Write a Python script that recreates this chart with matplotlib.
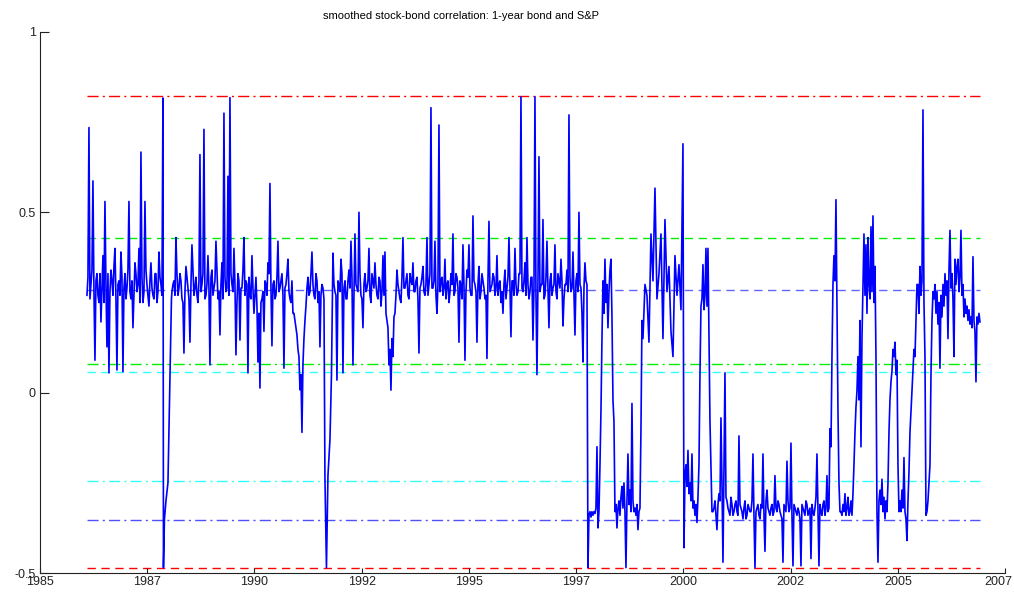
import numpy as np
import matplotlib
matplotlib.use("Agg")
import matplotlib.pyplot as plt
from matplotlib.transforms import ScaledTranslation

plt.rcParams["font.family"] = ["Liberation Sans", "DejaVu Sans"]
plt.rcParams["axes.unicode_minus"] = False

TITLE = "smoothed stock-bond correlation: 1-year bond and S&P"

# smoothed correlation.
# "_mid" lists hold the in-between readings of the dense noisy band.
corr_1986_1987 = [0.27, 0.735, 0.30, 0.587, 0.09, 0.33, 0.25, 0.196, 0.38, 0.53,
                  0.127, 0.055, 0.34, 0.27, 0.40, 0.063, 0.31, 0.39, 0.058, 0.33,
                  0.29, 0.53, 0.26, 0.18, 0.36, 0.28, 0.40, 0.667, 0.25, 0.53,
                  0.30, 0.24, 0.36, 0.27, 0.33, 0.25, 0.39, 0.30, 0.817]
corr_1986_1987_mid = [0.32, 0.26, 0.34, 0.28, 0.31, 0.27, 0.33, 0.29, 0.25, 0.30,
                      0.33, 0.28, 0.31, 0.35, 0.26, 0.30, 0.27, 0.32, 0.29, 0.26,
                      0.34, 0.28, 0.31, 0.27, 0.33, 0.30, 0.25, 0.32, 0.28, 0.34,
                      0.27, 0.31, 0.29, 0.26, 0.33, 0.28, 0.32, 0.27]

crash_1987_dates = [1987.8155, 1987.8383, 1987.8725, 1987.9181, 1987.9637, 1987.9979]
crash_1987_vals = [-0.485, -0.35, -0.30, -0.25, 0.05, 0.26]

corr_1988_1991 = [0.28, 0.31, 0.43, 0.27, 0.33, 0.26, 0.11, 0.35, 0.29, 0.14,
                  0.41, 0.27, 0.32, 0.25, 0.66, 0.30, 0.73, 0.27, 0.38, 0.077,
                  0.34, 0.29, 0.42, 0.26, 0.16, 0.36, 0.775, 0.28, 0.60, 0.818,
                  0.30, 0.40, 0.105, 0.33, 0.146, 0.29, 0.43, 0.31, 0.055, 0.27,
                  0.38, 0.22, 0.32, 0.085, 0.013, 0.26, 0.17, 0.30, 0.36, 0.58,
                  0.13, 0.31, 0.27, 0.42, 0.29, 0.33, 0.068, 0.30, 0.37, 0.26,
                  0.31, 0.22, 0.18, 0.12, 0.008, -0.11, 0.15, 0.24, 0.32, 0.28,
                  0.39, 0.27, 0.33, 0.25, 0.127, 0.30, 0.26]
corr_1988_1991_mid = [0.30, 0.27, 0.33, 0.29, 0.31, 0.25, 0.28, 0.32, 0.26, 0.30,
                      0.34, 0.29, 0.27, 0.31, 0.28, 0.33, 0.26, 0.30, 0.29, 0.32,
                      0.27, 0.31, 0.34, 0.28, 0.30, 0.26, 0.32, 0.29, 0.27, 0.33,
                      0.28, 0.30, 0.25, 0.31, 0.29, 0.34, 0.27, 0.30, 0.32, 0.26,
                      0.29, 0.27, 0.24, 0.22, 0.25, 0.28, 0.31, 0.27, 0.33, 0.29,
                      0.30, 0.26, 0.32, 0.28, 0.31, 0.27, 0.29, 0.33, 0.28, 0.25,
                      0.22, 0.20, 0.16, 0.10, 0.05, 0.08, 0.20, 0.29, 0.27, 0.33,
                      0.30, 0.26, 0.31, 0.28, 0.27, 0.29]

drop_1991_dates = [1991.4974, 1991.5316, 1991.5658, 1991.6114, 1991.6456]
drop_1991_vals = [-0.24, -0.485, -0.23, -0.13, 0.05]

corr_1991_1997 = [0.387, 0.28, 0.035, 0.30, 0.37, 0.055, 0.31, 0.26, 0.34, 0.42,
                  0.077, 0.44, 0.29, 0.50, 0.27, 0.18, 0.33, 0.29, 0.40, 0.25,
                  0.31, 0.36, 0.27, 0.32, 0.24, 0.38, 0.39, 0.20, 0.077, 0.007,
                  0.10, 0.22, 0.34, 0.28, 0.25, 0.43, 0.29, 0.33, 0.26, 0.31,
                  0.36, 0.28, 0.32, 0.11, 0.30, 0.35, 0.27, 0.43, 0.30, 0.79,
                  0.29, 0.42, 0.22, 0.742, 0.31, 0.27, 0.37, 0.30, 0.25, 0.33,
                  0.44, 0.28, 0.32, 0.14, 0.30, 0.41, 0.09, 0.34, 0.41, 0.27,
                  0.49, 0.30, 0.14, 0.35, 0.28, 0.31, 0.26, 0.095, 0.475, 0.29,
                  0.33, 0.27, 0.38, 0.30, 0.25, 0.22, 0.34, 0.29, 0.43, 0.155,
                  0.31, 0.40, 0.27, 0.33, 0.82, 0.28, 0.36, 0.43, 0.26, 0.32,
                  0.146, 0.82, 0.05, 0.654, 0.30, 0.48, 0.27, 0.42, 0.18, 0.33,
                  0.29, 0.41, 0.26, 0.31, 0.37, 0.185, 0.30, 0.34, 0.77, 0.28,
                  0.39, 0.16, 0.33, 0.50, 0.29, 0.085, 0.36, 0.30]
corr_1991_1997_mid = [0.30, 0.27, 0.31, 0.28, 0.33, 0.29, 0.26, 0.31, 0.29, 0.32,
                      0.27, 0.30, 0.28, 0.33, 0.26, 0.30, 0.28, 0.31, 0.27, 0.33,
                      0.29, 0.30, 0.26, 0.31, 0.28, 0.27, 0.22, 0.18, 0.12, 0.15,
                      0.21, 0.27, 0.30, 0.26, 0.32, 0.29, 0.31, 0.27, 0.33, 0.30,
                      0.28, 0.31, 0.26, 0.29, 0.32, 0.28, 0.30, 0.27, 0.33, 0.29,
                      0.31, 0.27, 0.30, 0.28, 0.32, 0.29, 0.26, 0.31, 0.28, 0.30,
                      0.27, 0.33, 0.29, 0.31, 0.26, 0.30, 0.28, 0.32, 0.29, 0.27,
                      0.31, 0.28, 0.30, 0.26, 0.33, 0.29, 0.27, 0.31, 0.28, 0.30,
                      0.32, 0.29, 0.27, 0.31, 0.28, 0.30, 0.26, 0.32, 0.29, 0.31,
                      0.27, 0.30, 0.28, 0.33, 0.29, 0.31, 0.27, 0.30, 0.28, 0.32,
                      0.29, 0.27, 0.31, 0.28, 0.30, 0.26, 0.32, 0.29, 0.31, 0.27,
                      0.30, 0.28, 0.33, 0.29, 0.31, 0.26, 0.30, 0.28, 0.32, 0.29,
                      0.27, 0.31, 0.28, 0.30, 0.22, 0.29, 0.31]

corr_1997_1998 = [-0.485, -0.34, -0.33, -0.345, -0.33, -0.34, -0.33, -0.335, -0.32, -0.15,
                  -0.375, -0.33, -0.20, -0.05, 0.15, 0.31, 0.22, 0.37, 0.25, 0.30,
                  0.18, 0.28, 0.34, 0.37, 0.21]

corr_1998 = [-0.02, -0.08, -0.33, -0.31, -0.375, -0.32, -0.30, -0.34, -0.29, -0.26,
             -0.32, -0.25, -0.33, -0.485, -0.30, -0.17, -0.31, -0.27, -0.33, -0.03,
             -0.30, -0.33, -0.32, -0.34, -0.31, -0.38, -0.33, -0.32, -0.10, 0.20]

corr_1998_1999 = [0.15, 0.30, 0.27, 0.14, 0.44, 0.31, 0.567, 0.26, 0.33, 0.44,
                  0.15, 0.48, 0.28, 0.35, 0.17, 0.10, 0.38, 0.27, 0.355, 0.23, 0.69]

corr_1999_2000 = [-0.43, -0.23, -0.20, -0.26, -0.16, -0.28, -0.25, -0.30, -0.17, -0.32,
                  -0.30, -0.34, -0.31, -0.36, -0.29, -0.20, 0.05]

corr_2000 = [0.24, 0.26, 0.355, 0.23, 0.27, 0.40, 0.24, 0.40, 0.17, -0.08, -0.20, -0.33]

corr_2000_2002 = [-0.33, -0.30, -0.38, -0.28, -0.07, -0.47, 0.055, -0.30, -0.33, -0.29,
                  -0.34, -0.31, -0.33, -0.12, -0.32, -0.35, -0.30, -0.34, -0.32, -0.33,
                  -0.17, -0.485, -0.32, -0.34, -0.31, -0.17, -0.44, -0.27, -0.33, -0.32,
                  -0.34, -0.23, -0.33, -0.31, -0.34, -0.47, -0.32, -0.19, -0.33, -0.14,
                  -0.48, -0.32, -0.34, -0.33, -0.48, -0.32, -0.34, -0.31, -0.33, -0.46,
                  -0.33, -0.32, -0.17, -0.48, -0.33, -0.31, -0.34, -0.23, -0.32]
corr_2000_2002_mid = [-0.32, -0.34, -0.31, -0.30, -0.25, -0.20, -0.29, -0.32, -0.34, -0.31,
                      -0.33, -0.30, -0.34, -0.31, -0.33, -0.32, -0.35, -0.31, -0.33, -0.30,
                      -0.34, -0.33, -0.31, -0.35, -0.32, -0.34, -0.30, -0.32, -0.34, -0.31,
                      -0.33, -0.32, -0.30, -0.33, -0.35, -0.31, -0.33, -0.30, -0.32, -0.34,
                      -0.31, -0.33, -0.32, -0.35, -0.31, -0.33, -0.30, -0.34, -0.32, -0.31,
                      -0.34, -0.29, -0.33, -0.31, -0.34, -0.30, -0.32, -0.33]

corr_2003a = [-0.10, -0.15, 0.10, 0.30, 0.38, 0.31, 0.535, 0.25, -0.05, -0.25, -0.33]

corr_2003b = [-0.33, -0.34, -0.31, -0.33, -0.28, -0.34, -0.32, -0.29, -0.34, -0.33,
              -0.30, -0.34, -0.28, -0.20, -0.11, -0.04, 0.005, 0.10, -0.02, 0.20,
              -0.15, 0.15]

corr_2003_2004 = [0.30, 0.44, 0.27, 0.41, 0.22, 0.43, 0.30, 0.26, 0.46, 0.28,
                  0.49, 0.25, 0.35, 0.10, -0.33, -0.47, -0.30]

corr_2004a = [-0.27, -0.31, -0.24, -0.33, -0.29, -0.35, -0.30, -0.33, -0.25, -0.11,
              -0.02, 0.03, 0.06, 0.12, 0.10, 0.14, 0.05, 0.09, -0.20, -0.33]

corr_2004b = [-0.30, -0.33, -0.27, -0.32, -0.18, -0.33, -0.35, -0.41, -0.30, -0.22,
              -0.11, -0.05, 0.005, 0.06, 0.12, 0.10, 0.20, 0.30]

corr_2005a = [0.30, 0.22, 0.35, 0.27, 0.31, 0.784, 0.25, 0.10, -0.34, -0.33,
              -0.30, -0.25, -0.20, 0.05, 0.20, 0.28]

corr_2005_2006 = [0.26, 0.30, 0.22, 0.28, 0.19, 0.25, 0.068, 0.27, 0.21, 0.30,
                  0.24, 0.33, 0.27, 0.31, 0.15, 0.34, 0.45, 0.29, 0.33, 0.26,
                  0.10, 0.37, 0.30, 0.35, 0.37, 0.28, 0.32, 0.45, 0.27, 0.30,
                  0.21, 0.26, 0.22, 0.24, 0.20, 0.23, 0.19, 0.21, 0.18, 0.377,
                  0.20, 0.17, 0.03, 0.21, 0.19, 0.22, 0.196]

# (start year, end year, readings, in-between readings or None)
segments = [
    (1986.0715, 1987.8041, corr_1986_1987, corr_1986_1987_mid),
    (None, crash_1987_dates, crash_1987_vals, None),
    (1988.0093, 1991.4746, corr_1988_1991, corr_1988_1991_mid),
    (None, drop_1991_dates, drop_1991_vals, None),
    (1991.6798, 1997.4705, corr_1991_1997, corr_1991_1997_mid),
    (1997.4933, 1998.0404, corr_1997_1998, None),
    (1998.0632, 1998.7243, corr_1998, None),
    (1998.7471, 1999.6591, corr_1998_1999, None),
    (1999.6819, 2000.0466, corr_1999_2000, None),
    (2000.0694, 2000.3202, corr_2000, None),
    (2000.3430, 2002.9875, corr_2000_2002, corr_2000_2002_mid),
    (2003.0103, 2003.2383, corr_2003a, None),
    (2003.2611, 2003.7399, corr_2003b, None),
    (2003.7627, 2004.1274, corr_2003_2004, None),
    (2004.1504, 2004.5834, corr_2004a, None),
    (2004.6062, 2004.9938, corr_2004b, None),
    (2005.0166, 2005.3585, corr_2005a, None),
    (2005.3813, 2006.4300, corr_2005_2006, None),
]

# reference levels: max, upper bands, mean, lower bands, min
ref_levels = [0.823, 0.43, 0.285, 0.08, 0.057, -0.245, -0.353, -0.485]
ref_colors = ["#ff0000", "#00ee00", "#6464ff", "#00ee00", "#33ffff", "#33ffff", "#5050ff", "#ff0000"]
ref_styles = ["-.", "--", "--", "-.", "--", "-.", "-.", "--"]

year_labels = ["1985", "1987", "1990", "1992", "1995", "1997", "2000", "2002", "2005", "2007"]
y_ticks = [-0.5, 0, 0.5, 1]
y_labels = ["-0.5", "0", "0.5", "1"]


def interleave(vals, mids):
    out = []
    for v, m in zip(vals, mids):
        out += [v, m]
    out.append(vals[-1])
    return out


def build_series():
    dates, vals = [], []
    for start, end, data, mids in segments:
        if start is None:
            dates.extend(end)
            vals.extend(data)
            continue
        if mids is not None:
            data = interleave(data, mids)
        dates.extend(np.linspace(start, end, len(data)))
        vals.extend(data)
    return np.array(dates), np.array(vals)


def main():
    dates, vals = build_series()

    fig = plt.figure(figsize=(10.14, 5.97), dpi=100)
    ax = fig.add_axes([0.0394, 0.0402, 0.9517, 0.9062])

    dash_map = {"--": (6, 4), "-.": (8, 3, 1.5, 3)}
    for level, color, style in zip(ref_levels, ref_colors, ref_styles):
        ax.plot([dates[0], dates[-1]], [level, level], color=color,
                linewidth=1.0, dashes=dash_map[style], zorder=1)

    ax.plot(dates, vals, color="#0000ff", linewidth=1.2, zorder=2)

    ax.set_xlim(1985, 2007)
    ax.set_ylim(-0.5, 1)
    ax.set_xticks(np.linspace(1985, 2007, len(year_labels)))
    ax.set_xticklabels(year_labels)
    ax.set_yticks(y_ticks)
    ax.set_yticklabels(y_labels)

    ax.spines[["top", "right"]].set_visible(False)
    for side in ["left", "bottom"]:
        ax.spines[side].set_linewidth(0.8)
        ax.spines[side].set_color("#222222")
    ax.tick_params(axis="x", direction="in", length=3.6, width=0.8,
                   pad=2, labelsize=9, colors="#222222")
    ax.tick_params(axis="y", direction="in", length=6.5, width=0.8,
                   pad=3, labelsize=9, colors="#222222")

    # keep the last year label inside the figure
    last = ax.get_xticklabels()[-1]
    last.set_horizontalalignment("right")
    last.set_transform(last.get_transform() + ScaledTranslation(0.07, 0, fig.dpi_scale_trans))

    fig.text(0.455, 0.974, TITLE, ha="center", va="center", fontsize=8)

    plt.savefig("out.png", dpi=100)


if __name__ == "__main__":
    main()
